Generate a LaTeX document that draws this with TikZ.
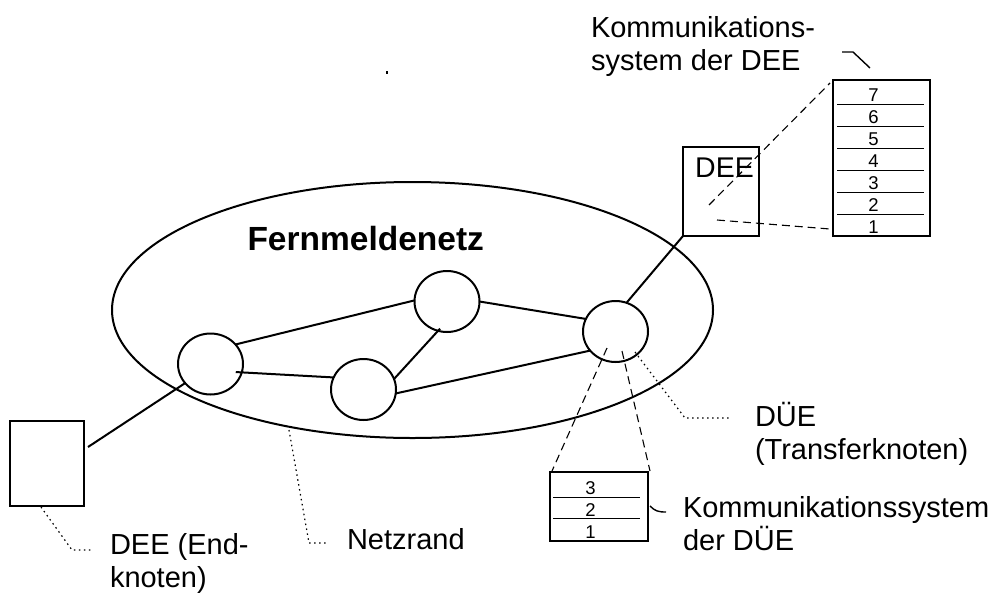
\documentclass[tikz,border=0pt]{standalone}
\usepackage{fontspec}
\setmainfont{Liberation Sans}
\usepackage{tikz}
\usetikzlibrary{shapes.geometric}
\tikzset{
    sysbox/.style={draw, line width=2.2pt, inner sep=0pt, outer sep=0pt},
    knoten/.style={ellipse, draw, line width=2pt, inner sep=0pt, outer sep=0pt, minimum width=65pt, minimum height=61pt},
    leit/.style={line width=2pt},
    schicht/.style={line width=1pt},
    gestrichelt/.style={line width=1.1pt, dash pattern=on 8pt off 5pt},
    gepunktet/.style={line width=1.2pt, dash pattern=on 1.5pt off 3.5pt},
    label/.style={anchor=north west, inner sep=0pt, outer sep=0pt, align=left, font=\fontsize{29}{33}\selectfont},
    ziffer/.style={anchor=base, inner sep=0pt, outer sep=0pt, font=\fontsize{18.5}{18}\selectfont}
}

\begin{document}
\begin{tikzpicture}[x=1pt, y=-1pt]
        \useasboundingbox (0,0) rectangle (993,592);
        \fill (386,70.5) rectangle (388,73.5);

        \node[draw, line width=2pt, ellipse, inner sep=0pt, outer sep=0pt, minimum width=601pt, minimum height=256pt] (Netz) at (412.5,310) {};
        \node[inner sep=0pt, outer sep=0pt, anchor=base west, font=\fontsize{33.5}{34}\selectfont\bfseries] (Titel) at (247.5,250) {Fernmeldenetz};

        \node[knoten] (A) at (210.5,364) {};
        \node[knoten] (B) at (363.5,389.5) {};
        \node[knoten] (C) at (447,301.5) {};
        \node[knoten] (D) at (615.5,331.5) {};

        \node[sysbox, minimum width=76pt, minimum height=89pt] (DEE) at (721,191.5) {};
        \node[inner sep=0pt, outer sep=0pt, anchor=base, font=\fontsize{28.5}{29}\selectfont] (DEEtext) at (724.5,177) {DEE};
        \node[sysbox, minimum width=74pt, minimum height=85pt] (Ende) at (47,463.5) {};
        \node[sysbox, minimum width=97pt, minimum height=156pt] (DEEsys) at (881.5,158) {};
        \node[sysbox, minimum width=98pt, minimum height=69pt] (DUEsys) at (599,506.5) {};

        \draw[schicht] (837,104.3) -- (924,104.3);
        \draw[schicht] (837,126.3) -- (924,126.3);
        \draw[schicht] (837,148.3) -- (924,148.3);
        \draw[schicht] (837,170.3) -- (924,170.3);
        \draw[schicht] (837,192.3) -- (924,192.3);
        \draw[schicht] (837,214.3) -- (924,214.3);
        \draw[schicht] (553,497) -- (640,497);
        \draw[schicht] (553,518.5) -- (640,518.5);

        \node[ziffer] (s7) at (873.5,101) {7};
        \node[ziffer] (s6) at (873.5,123) {6};
        \node[ziffer] (s5) at (873.5,145) {5};
        \node[ziffer] (s4) at (873.5,167) {4};
        \node[ziffer] (s3) at (873.5,189) {3};
        \node[ziffer] (s2) at (873.5,211.5) {2};
        \node[ziffer] (s1) at (873.5,233) {1};
        \node[ziffer] (t3) at (590.5,494) {3};
        \node[ziffer] (t2) at (590.5,516) {2};
        \node[ziffer] (t1) at (590.5,538) {1};

        \coordinate (EndeFrei) at (88,447);
        \draw[leit] (A.38) -- (C.178);
        \draw[leit, shorten <=-6pt] (A.-15) -- (B.158);
        \draw[leit, shorten >=-3pt] (B.19) -- (C.253);
        \draw[leit] (B.-7) -- (D.217);
        \draw[leit] (C.0) -- (D.157);
        \draw[leit] (D.69) -- (DEE.south west);
        \draw[leit] (A.217) -- (EndeFrei);

        \coordinate (g1) at (709,205);
        \coordinate (g2) at (830,83);
        \coordinate (g3) at (717,220);
        \coordinate (g4) at (830,229);
        \coordinate (g5) at (607,348);
        \coordinate (g6) at (552,471);
        \coordinate (g7) at (622,351);
        \coordinate (g8) at (650,471);
        \draw[gestrichelt] (g1) -- (g2);
        \draw[gestrichelt] (g3) -- (g4);
        \draw[gestrichelt] (g5) -- (g6);
        \draw[gestrichelt] (g7) -- (g8);

        \coordinate (p1) at (635,352);
        \coordinate (p2) at (685,418);
        \coordinate (p3) at (732,418);
        \coordinate (p4) at (289,430);
        \coordinate (p5) at (309,543);
        \coordinate (p6) at (327,543);
        \coordinate (p7) at (41,507);
        \coordinate (p8) at (72,550);
        \coordinate (p9) at (93,550);
        \draw[gepunktet] (p1) -- (p2) -- (p3);
        \draw[gepunktet] (p4) -- (p5) -- (p6);
        \draw[gepunktet] (p7) -- (p8) -- (p9);

        \coordinate (k1) at (842,52);
        \coordinate (k2) at (853,52);
        \coordinate (k3) at (870,68);
        \coordinate (k4) at (650,506);
        \coordinate (k5) at (666,512);
        \draw[line width=1.4pt] (k1) -- (k2) -- (k3);
        \draw[line width=1.4pt] (k4) .. controls (655,511) and (658,512) .. (k5);

        \node[label] (lDEEsys) at (591,16) {Kommunikations-\\system der DEE};
        \node[label] (lDUE) at (755,402) {DÜE\\(Transferknoten)};
        \node[label] (lDUEsys) at (683,496) {Kommunikationssystem\\der DÜE};
        \node[label] (lNetzrand) at (347,528) {Netzrand};
        \node[label] (lEnde) at (110,533) {DEE (End-\\knoten)};
    \end{tikzpicture}
\end{document}
